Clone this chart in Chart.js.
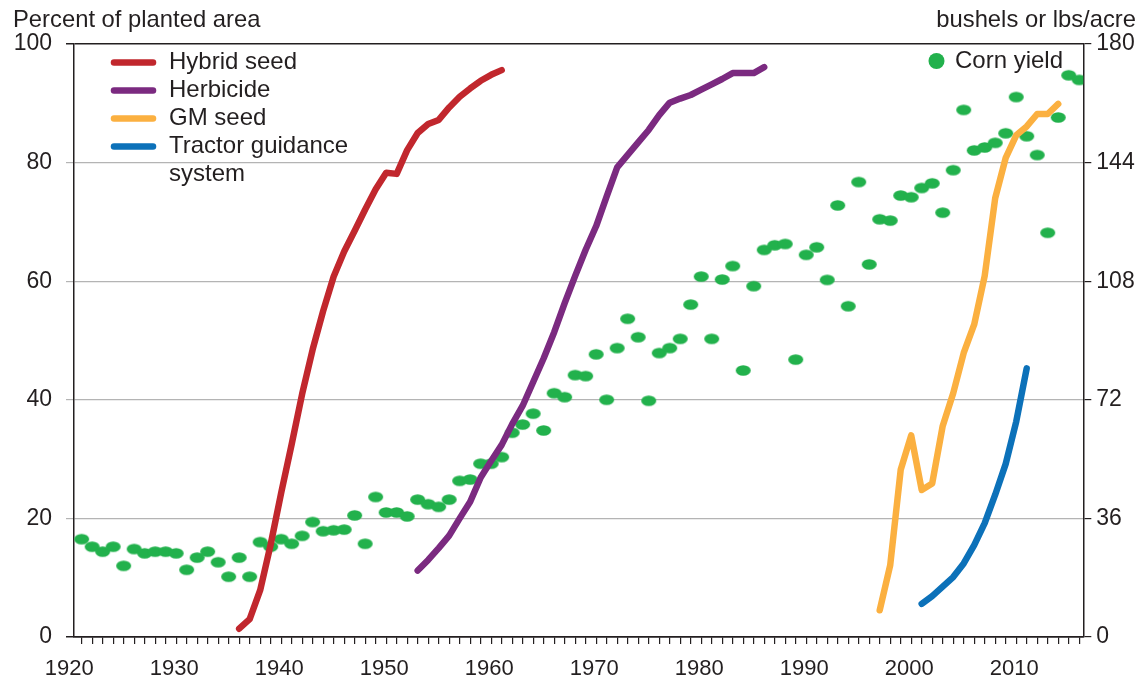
<!DOCTYPE html>
<html>
<head>
<meta charset="utf-8">
<script src="https://cdn.jsdelivr.net/npm/chart.js@4.4.0/dist/chart.umd.min.js"></script>
<style>
  body { margin: 0; background: #fff; }
</style>
</head>
<body>
<canvas id="myChart" width="1142" height="681"></canvas>
<script>
// corn yield, bushels per acre (right axis)
const yieldYears = [1920,1921,1922,1923,1924,1925,1926,1927,1928,1929,
  1930,1931,1932,1933,1934,1935,1936,1937,1938,1939,
  1940,1941,1942,1943,1944,1945,1946,1947,1948,1949,
  1950,1951,1952,1953,1954,1955,1956,1957,1958,1959,
  1960,1961,1962,1963,1964,1965,1966,1967,1968,1969,
  1970,1971,1972,1973,1974,1975,1976,1977,1978,1979,
  1980,1981,1982,1983,1984,1985,1986,1987,1988,1989,
  1990,1991,1992,1993,1994,1995,1996,1997,1998,1999,
  2000,2001,2002,2003,2004,2005,2006,2007,2008,2009,
  2010,2011,2012,2013,2014,2015];
const yieldValues = [29.7,27.4,25.9,27.4,21.6,26.7,25.4,25.9,25.9,25.4,
  20.4,24.1,25.9,22.7,18.3,24.1,18.3,28.8,27.4,29.7,
  28.3,30.7,34.9,32.1,32.4,32.6,36.9,28.3,42.5,37.8,
  37.8,36.6,41.7,40.3,39.5,41.7,47.4,47.8,52.6,52.6,
  54.6,62.0,64.5,67.8,62.7,74.0,72.8,79.5,79.2,85.8,
  72.0,87.7,96.6,91.0,71.7,86.2,87.7,90.5,100.9,109.4,
  90.5,108.5,112.6,80.9,106.5,117.5,118.9,119.3,84.2,116.0,
  118.3,108.4,131.0,100.4,138.1,113.1,126.8,126.4,134.0,133.5,
  136.3,137.7,128.8,141.7,160.0,147.7,148.6,150.0,152.9,163.9,
  152.0,146.3,122.7,157.7,170.5,169.1];

// percent of planted area (left axis)
const hybridYears = [1935,1936,1937,1938,1939,1940,1941,1942,1943,1944,1945,1946,1947,
  1948,1949,1950,1951,1952,1953,1954,1955,1956,1957,1958,1959,1960];
const hybridValues = [1.4,3.0,7.9,15.6,24.3,32.5,41.0,48.5,55.0,60.8,65.0,68.5,72.1,
  75.5,78.3,78.1,82.1,85.0,86.5,87.2,89.3,91.1,92.5,93.8,94.8,95.6];

const herbYears = [1952,1953,1954,1955,1956,1957,1958,1959,1960,1961,1962,1963,1964,
  1965,1966,1967,1968,1969,1970,1971,1972,1973,1974,1975,1976,1977,1978,1979,
  1980,1981,1982,1983,1984,1985];
const herbValues = [11.2,13.0,15.0,17.1,20.0,22.8,26.9,29.7,32.4,35.9,39.0,43.0,47.0,
  51.4,56.3,60.9,65.3,69.3,74.3,79.2,81.3,83.4,85.5,88.0,90.1,90.8,91.4,92.3,
  93.2,94.1,95.1,95.1,95.1,96.1];

const gmYears = [1996,1997,1998,1999,2000,2001,2002,2003,2004,2005,2006,2007,2008,
  2009,2010,2011,2012,2013];
const gmValues = [4.5,12.1,28.2,34.0,24.8,25.9,35.6,41.1,47.9,52.7,60.9,74.0,80.8,
  84.6,86.1,88.2,88.2,89.9];

const tractorYears = [2000,2001,2002,2003,2004,2005,2006,2007,2008,2009,2010];
const tractorValues = [5.6,6.9,8.5,10.1,12.4,15.5,19.2,24.0,29.2,36.3,45.3];

const leftTitle = "Percent of planted area";
const rightTitle = "bushels or lbs/acre";
const lineLabels = ["Hybrid seed", "Herbicide", "GM seed", "Tractor guidance\nsystem"];
const lineColors = ["#c1272d", "#7b2a80", "#fbb040", "#0c71b9"];
const yieldLabel = "Corn yield";
const yieldColor = "#22b14c";

const textColor = "#231f20";
const gridColor = "#b4b4b4";
const fontFamily = '"Liberation Sans", Arial, Helvetica, sans-serif';

function pairs(xs, ys) {
  return xs.map((x, i) => ({ x: x, y: ys[i] }));
}

// the dots in the source are a little wider than tall
function makeDot(rx, ry, color) {
  const c = document.createElement("canvas");
  c.width = Math.ceil(rx * 2) + 2;
  c.height = Math.ceil(ry * 2) + 2;
  const g = c.getContext("2d");
  g.fillStyle = color;
  g.beginPath();
  g.ellipse(c.width / 2, c.height / 2, rx, ry, 0, 0, Math.PI * 2);
  g.fill();
  return c;
}

function lineSet(label, xs, ys, color) {
  return {
    label: label,
    data: pairs(xs, ys),
    showLine: true,
    borderColor: color,
    backgroundColor: color,
    borderWidth: 6.5,
    borderCapStyle: "round",
    borderJoinStyle: "round",
    pointRadius: 0,
    fill: false,
    yAxisID: "y",
    order: 1
  };
}

const textPlugin = {
  id: "texts",
  afterDraw(chart) {
    const c = chart.ctx;
    c.save();
    c.fillStyle = textColor;
    c.font = "23.8px " + fontFamily;
    c.textBaseline = "alphabetic";
    c.textAlign = "left";
    c.fillText(leftTitle, 13, 27);
    c.textAlign = "right";
    c.fillText(rightTitle, 1136, 27);

    // legend for the lines
    c.font = "24px " + fontFamily;
    c.textAlign = "left";
    c.lineCap = "round";
    c.lineWidth = 6.5;
    let cy = 62.5;
    for (let i = 0; i < lineLabels.length; i++) {
      c.strokeStyle = lineColors[i];
      c.beginPath();
      c.moveTo(114, cy);
      c.lineTo(153, cy);
      c.stroke();
      const parts = lineLabels[i].split("\n");
      for (let j = 0; j < parts.length; j++) {
        c.fillText(parts[j], 169, cy + 6 + j * 28);
      }
      cy += 28;
    }

    // legend for the dots
    c.fillStyle = yieldColor;
    c.beginPath();
    c.arc(936.5, 61, 8, 0, Math.PI * 2);
    c.fill();
    c.fillStyle = textColor;
    c.fillText(yieldLabel, 955, 68);
    c.restore();
  }
};

const tickYears = [];
for (let y = 1920; y <= 2015; y++) tickYears.push(y);

const ctx = document.getElementById("myChart").getContext("2d");
new Chart(ctx, {
  type: "scatter",
  data: {
    datasets: [
      lineSet(lineLabels[0], hybridYears, hybridValues, lineColors[0]),
      lineSet(lineLabels[1], herbYears, herbValues, lineColors[1]),
      lineSet(lineLabels[2], gmYears, gmValues, lineColors[2]),
      lineSet(lineLabels[3], tractorYears, tractorValues, lineColors[3]),
      {
        label: yieldLabel,
        data: pairs(yieldYears, yieldValues),
        pointStyle: makeDot(7.5, 5.2, yieldColor),
        pointRadius: 7,
        showLine: false,
        yAxisID: "y1",
        order: 2
      }
    ]
  },
  options: {
    responsive: false,
    animation: false,
    devicePixelRatio: 1,
    layout: { padding: { top: 44, left: 0, right: 0, bottom: 0 } },
    plugins: {
      legend: { display: false },
      tooltip: { enabled: false }
    },
    scales: {
      x: {
        type: "linear",
        min: 1919.27,
        max: 2015.39,
        afterBuildTicks: s => { s.ticks = tickYears.map(v => ({ value: v })); },
        afterFit: s => { s.height = 44; },
        border: { display: true, color: textColor, width: 1.5 },
        grid: { drawOnChartArea: false, drawTicks: true, tickLength: 7, color: textColor, lineWidth: 1.2 },
        ticks: {
          autoSkip: false,
          maxRotation: 0,
          minRotation: 0,
          padding: 12,
          labelOffset: -12.5,
          color: textColor,
          font: { family: fontFamily, size: 22 },
          callback: v => (v % 10 === 0 ? String(v) : "")
        }
      },
      y: {
        position: "left",
        min: 0,
        max: 100,
        afterFit: s => { s.width = 74; },
        border: { display: true, color: textColor, width: 1.5 },
        grid: {
          color: c => (c.tick.value === 0 || c.tick.value === 100 ? textColor : gridColor),
          lineWidth: c => (c.tick.value === 0 || c.tick.value === 100 ? 1.5 : 1.2),
          tickLength: 8
        },
        ticks: {
          stepSize: 20,
          padding: 14,
          color: textColor,
          font: { family: fontFamily, size: 23 }
        }
      },
      y1: {
        position: "right",
        min: 0,
        max: 180,
        afterFit: s => { s.width = 58.7; },
        border: { display: true, color: textColor, width: 1.5 },
        grid: { drawOnChartArea: false, color: textColor, lineWidth: 1.2, tickLength: 8 },
        ticks: {
          stepSize: 36,
          padding: 5,
          color: textColor,
          font: { family: fontFamily, size: 23 }
        }
      }
    }
  },
  plugins: [textPlugin]
});
</script>
</body>
</html>
